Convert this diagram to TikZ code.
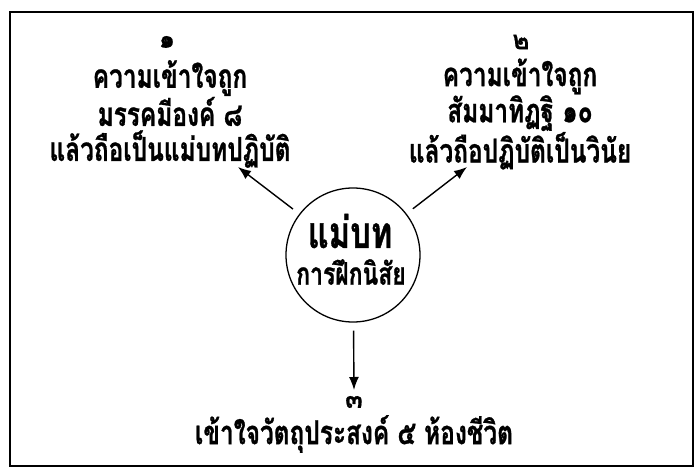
\documentclass[tikz,border=0pt]{standalone}
\usepackage{fontspec}
\usetikzlibrary{arrows.meta}
\newfontfamily\thaifont[Script=Thai,FakeStretch=0.74,BoldFeatures={FakeBold=0.8}]{Loma}
\newfontfamily\thainum[Script=Thai,BoldFeatures={FakeBold=0.6}]{Loma}
\tikzset{
  frame/.style={line width=2.4pt},
  hub/.style={circle,draw,line width=1.3pt,minimum size=134pt,inner sep=0pt},
  txt/.style={align=center,inner sep=0pt,font=\thaifont\bfseries\fontsize{33}{35}\selectfont},
  num/.style={inner sep=0pt,font=\thainum\bfseries\fontsize{26}{28}\selectfont},
  arr/.style={line width=1.4pt,-{Latex[length=13pt,width=10pt]},shorten <=8pt}
}
\begin{document}
\begin{tikzpicture}[x=1pt,y=-1pt]
\useasboundingbox (0,0) rectangle (700,473);
\draw[frame] (10,12) rectangle (693,466);
\node[hub] (c) at (353,255) {};
\node[inner sep=0pt,font=\thaifont\bfseries\fontsize{44}{46}\selectfont] (t1) at (350,231) {แม่บท};
\node[inner sep=0pt,font=\thaifont\bfseries\fontsize{31}{33}\selectfont] (t2) at (351,272) {การฝึกนิสัย};
\node[num] (n1) at (167,42) {๑};
\node[txt] (a) at (170,114) {ความเข้าใจถูก\\มรรคมีองค์ ๘\\แล้วถือเป็นแม่บทปฏิบัติ};
\node[num] (n2) at (521,42) {๒};
\node[txt] (b) at (520,114) {ความเข้าใจถูก\\สัมมาทิฏฐิ ๑๐\\แล้วถือปฏิบัติเป็นวินัย};
\node[num] (n3) at (354,402) {๓};
\node[txt] (d) at (354,434) {เข้าใจวัตถุประสงค์ ๕ ห้องชีวิต};
\coordinate (e1) at (238,167);
\coordinate (e2) at (467,167);
\coordinate (e3) at (354,390);
\draw[arr] (c) -- (e1);
\draw[arr] (c) -- (e2);
\draw[arr] (c) -- (e3);
\end{tikzpicture}
\end{document}
